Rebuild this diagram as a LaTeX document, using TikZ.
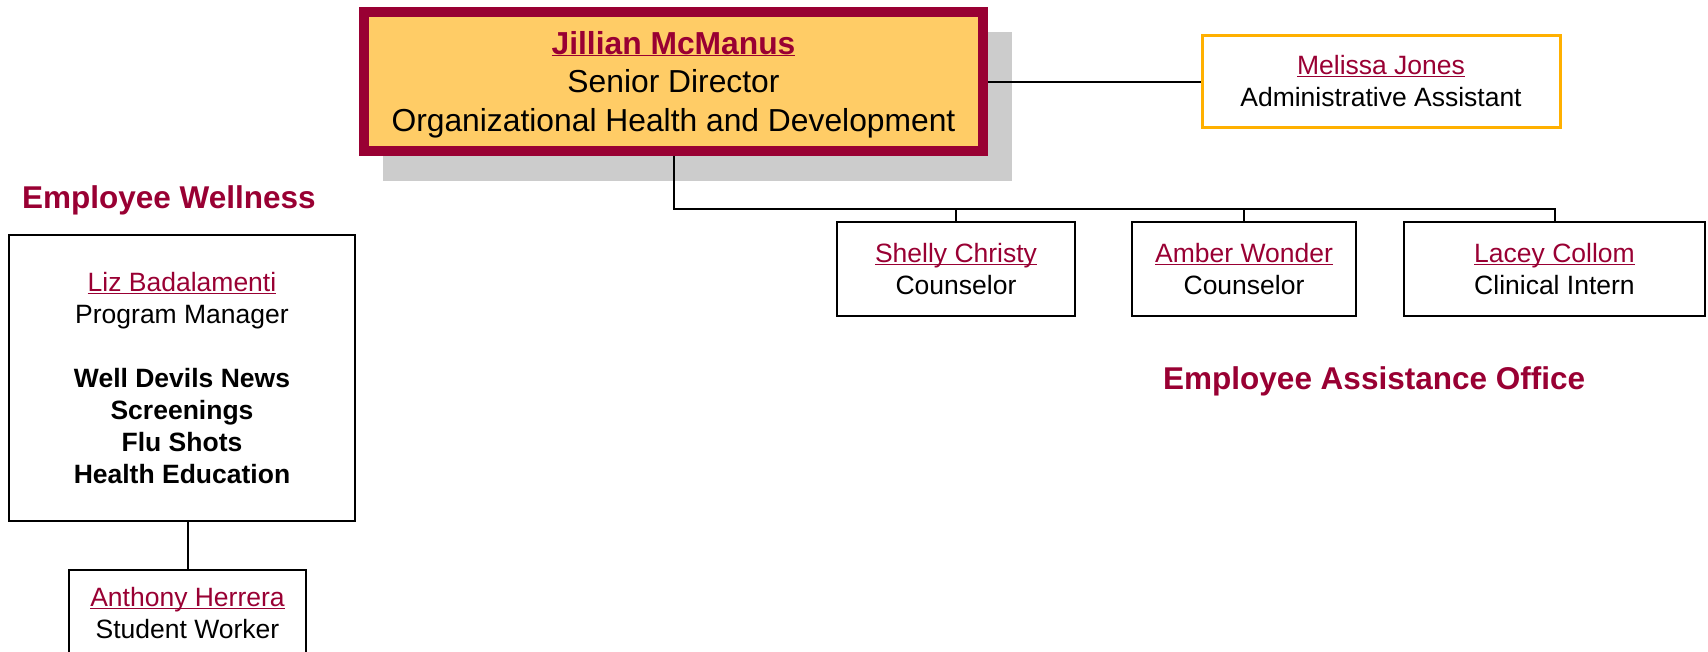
\documentclass[tikz,border=0pt]{standalone}
\usepackage{fontspec}
\setmainfont{Liberation Sans}
\usetikzlibrary{backgrounds}
\definecolor{asumaroon}{HTML}{990033}
\definecolor{asugold}{HTML}{FFCC66}
\definecolor{asuorange}{HTML}{FFB000}
\definecolor{shadowgray}{HTML}{CCCCCC}
\newcommand{\uname}[1]{{\color{asumaroon}\underline{\raisebox{0pt}[\height][0pt]{#1}}}}
\tikzset{
 staff/.style={draw,line width=2pt,inner sep=0pt,align=center,font=\fontsize{26.5}{32}\selectfont},
 unit/.style={anchor=base west,inner sep=0pt,text=asumaroon,font=\fontsize{31.5}{38}\selectfont\bfseries},
 link/.style={line width=2pt}
}
\begin{document}
\begin{tikzpicture}[x=1pt,y=-1pt]
 \useasboundingbox (0,0) rectangle (1708,651);
 \clip (0,0) rectangle (1708,651);
 \node[staff,line width=10pt,draw=asumaroon,fill=asugold,minimum width=619pt,minimum height=139pt,font=\fontsize{31.8}{38.5}\selectfont] (jillian) at (673.5,81.5) {\rule{0pt}{29pt}\textbf{\uname{Jillian McManus}}\\Senior Director\\Organizational Health and Development};
 \begin{scope}[on background layer]
  \fill[shadowgray] ([shift={(24,25)}]jillian.north west) rectangle ([shift={(24,25)}]jillian.south east);
 \end{scope}
 \node[staff,line width=3pt,draw=asuorange,minimum width=358pt,minimum height=92pt] (melissa) at (1381,81.5) {\uname{Melissa Jones}\\Administrative Assistant};
 \node[staff,minimum width=238pt,minimum height=94pt] (shelly) at (956,269) {\uname{Shelly Christy}\\Counselor};
 \node[staff,minimum width=224pt,minimum height=94pt] (amber) at (1244,269) {\uname{Amber Wonder}\\Counselor};
 \node[staff,minimum width=301pt,minimum height=94pt] (lacey) at (1554.5,269) {\uname{Lacey Collom}\\Clinical Intern};
 \node[staff,minimum width=345.7pt,minimum height=286pt] (liz) at (182,378) {\uname{Liz Badalamenti}\\Program Manager\\[32pt]\textbf{Well Devils News}\\\textbf{Screenings}\\\textbf{Flu Shots}\\\textbf{Health Education}};
 \node[staff,minimum width=237pt,minimum height=86pt,anchor=north] (anthony) at (187.5,569) {\uname{Anthony Herrera}\\Student Worker};
 \node[unit] (wellness) at (22,208) {Employee Wellness};
 \node[unit] (eao) at (1163,389) {Employee Assistance Office};
 \coordinate (bus) at (673.5,209);
 \draw[link] (jillian.south) |- (lacey.north |- bus) -- (lacey.north);
 \draw[link] (shelly.north) -- (shelly.north |- bus);
 \draw[link] (amber.north) -- (amber.north |- bus);
 \draw[link] (jillian.east) -- (melissa.west);
 \draw[link] (liz.south -| anthony.north) -- (anthony.north);
\end{tikzpicture}
\end{document}
